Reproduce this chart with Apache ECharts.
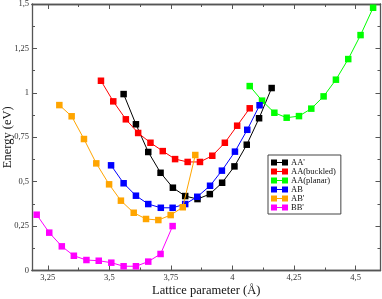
<!DOCTYPE html>
<html><head><meta charset="utf-8">
<script src="https://cdn.jsdelivr.net/npm/echarts@6/dist/echarts.min.js"></script>
<style>html,body{margin:0;padding:0;background:#fff}#c{width:382px;height:299px}</style>
</head><body><div id="c"></div>
<script>
const seriesNames = ["AA'", "AA(buckled)", "AA(planar)", "AB", "AB'", "BB'"];
const seriesColors = ["#000000", "#ff0000", "#00ff00", "#0000ff", "#ffa500", "#ff00ff"];

const xAA1 = [3.558, 3.608, 3.658, 3.708, 3.758, 3.808, 3.858, 3.908, 3.958, 4.008, 4.058, 4.108, 4.159];
const yAA1 = [0.993, 0.823, 0.667, 0.550, 0.466, 0.419, 0.402, 0.430, 0.494, 0.586, 0.708, 0.857, 1.027];

const xAAb = [3.466, 3.516, 3.567, 3.617, 3.667, 3.717, 3.767, 3.818, 3.868, 3.918, 3.969, 4.019, 4.070];
const yAAb = [1.068, 0.952, 0.851, 0.774, 0.719, 0.672, 0.627, 0.611, 0.611, 0.646, 0.719, 0.815, 0.913];

const xAAp = [4.070, 4.120, 4.170, 4.220, 4.270, 4.320, 4.370, 4.420, 4.470, 4.520, 4.571];
const yAAp = [1.038, 0.956, 0.888, 0.860, 0.869, 0.911, 0.980, 1.074, 1.190, 1.325, 1.479];

const xAB = [3.507, 3.558, 3.608, 3.658, 3.709, 3.757, 3.808, 3.857, 3.909, 3.957, 4.010, 4.060, 4.110];
const yAB = [0.592, 0.491, 0.421, 0.374, 0.353, 0.353, 0.374, 0.415, 0.477, 0.562, 0.669, 0.792, 0.930];

const xAB1 = [3.297, 3.347, 3.397, 3.447, 3.499, 3.547, 3.599, 3.649, 3.699, 3.749, 3.798, 3.849];
const yAB1 = [0.931, 0.868, 0.740, 0.603, 0.485, 0.393, 0.325, 0.290, 0.284, 0.312, 0.356, 0.650];

const xBB1 = [3.205, 3.256, 3.307, 3.356, 3.407, 3.457, 3.508, 3.558, 3.608, 3.658, 3.708, 3.757];
const yBB1 = [0.314, 0.213, 0.136, 0.083, 0.059, 0.055, 0.044, 0.024, 0.024, 0.050, 0.093, 0.250];

const xMajorTicks = [3.25, 3.5, 3.75, 4, 4.25, 4.5];
const xMinorTicks = [3.375, 3.625, 3.875, 4.125, 4.375];
const yTickStep = 0.25;

const xs = [xAA1, xAAb, xAAp, xAB, xAB1, xBB1];
const ys = [yAA1, yAAb, yAAp, yAB, yAB1, yBB1];

const xMin = 3.186, xMax = 4.601, yMin = 0, yMax = 1.5;
const serif = 'Liberation Serif';
const axisCol = '#555';
const fmt = v => String(+v.toFixed(3)).replace('.', ',');

function xAx(pos, ticks, len, labels) {
  return {
    type: 'value', position: pos, min: xMin, max: xMax,
    axisLine: {show: true, onZero: false, lineStyle: {color: axisCol, width: 1.3}},
    axisTick: {show: true, inside: true, length: len, customValues: ticks, lineStyle: {color: axisCol, width: 1}},
    axisLabel: labels ? {show: true, customValues: ticks, formatter: fmt, fontFamily: serif, fontSize: 8.5, color: '#333', margin: 3} : {show: false},
    splitLine: {show: false},
    name: labels ? 'Lattice parameter (Å)' : '',
    nameLocation: 'middle', nameGap: 14, nameMoveOverlap: false,
    nameTextStyle: {fontFamily: serif, fontSize: 12.5, color: '#111'}
  };
}
function yAx(pos, labels) {
  return {
    type: 'value', position: pos, min: yMin, max: yMax, interval: yTickStep,
    axisLine: {show: true, onZero: false, lineStyle: {color: axisCol, width: 1.3}},
    axisTick: {show: true, inside: true, length: 5, lineStyle: {color: axisCol, width: 1}},
    minorTick: {show: true, splitNumber: 2, length: 3, lineStyle: {color: axisCol, width: 1}},
    axisLabel: labels ? {show: true, formatter: fmt, fontFamily: serif, fontSize: 8.5, color: '#333', margin: 3} : {show: false},
    splitLine: {show: false}, minorSplitLine: {show: false},
    name: labels ? 'Energy (eV)' : '',
    nameLocation: 'middle', nameGap: 18, nameMoveOverlap: false,
    nameTextStyle: {fontFamily: serif, fontSize: 12.5, color: '#111'}
  };
}

const chart = echarts.init(document.getElementById('c'), null, {renderer: 'canvas'});
chart.setOption({
  animation: false,
  backgroundColor: '#fff',
  grid: {left: 32, right: 1.5, top: 4, bottom: 28.5, containLabel: false, outerBoundsMode: 'none'},
  legend: {
    data: seriesNames, orient: 'vertical', left: 268, top: 155,
    borderColor: '#444', borderWidth: 1, backgroundColor: '#fff',
    padding: [3, 5, 2, 3], itemGap: 0, itemWidth: 17, itemHeight: 6,
    icon: 'path://M0,0h6v6h-6z M6,2.6h5v0.8h-5z M11,0h6v6h-6z',
    itemStyle: {borderWidth: 0},
    textStyle: {fontFamily: serif, fontSize: 8.5, color: '#111', lineHeight: 9, padding: [0, 0, 0, -2]}
  },
  xAxis: [
    xAx('bottom', xMajorTicks, 5, true),
    xAx('bottom', xMinorTicks, 3, false),
    xAx('top', xMajorTicks, 5, false),
    xAx('top', xMinorTicks, 3, false)
  ],
  yAxis: [yAx('left', true), yAx('right', false)],
  series: seriesNames.map((n, i) => ({
    name: n, type: 'line', xAxisIndex: 0, yAxisIndex: 0,
    data: xs[i].map((x, j) => [x, ys[i][j]]),
    symbol: 'rect', symbolSize: 6.5,
    itemStyle: {color: seriesColors[i]},
    lineStyle: {color: seriesColors[i], width: 1},
    z: 2 + i
  }))
});
</script></body></html>
